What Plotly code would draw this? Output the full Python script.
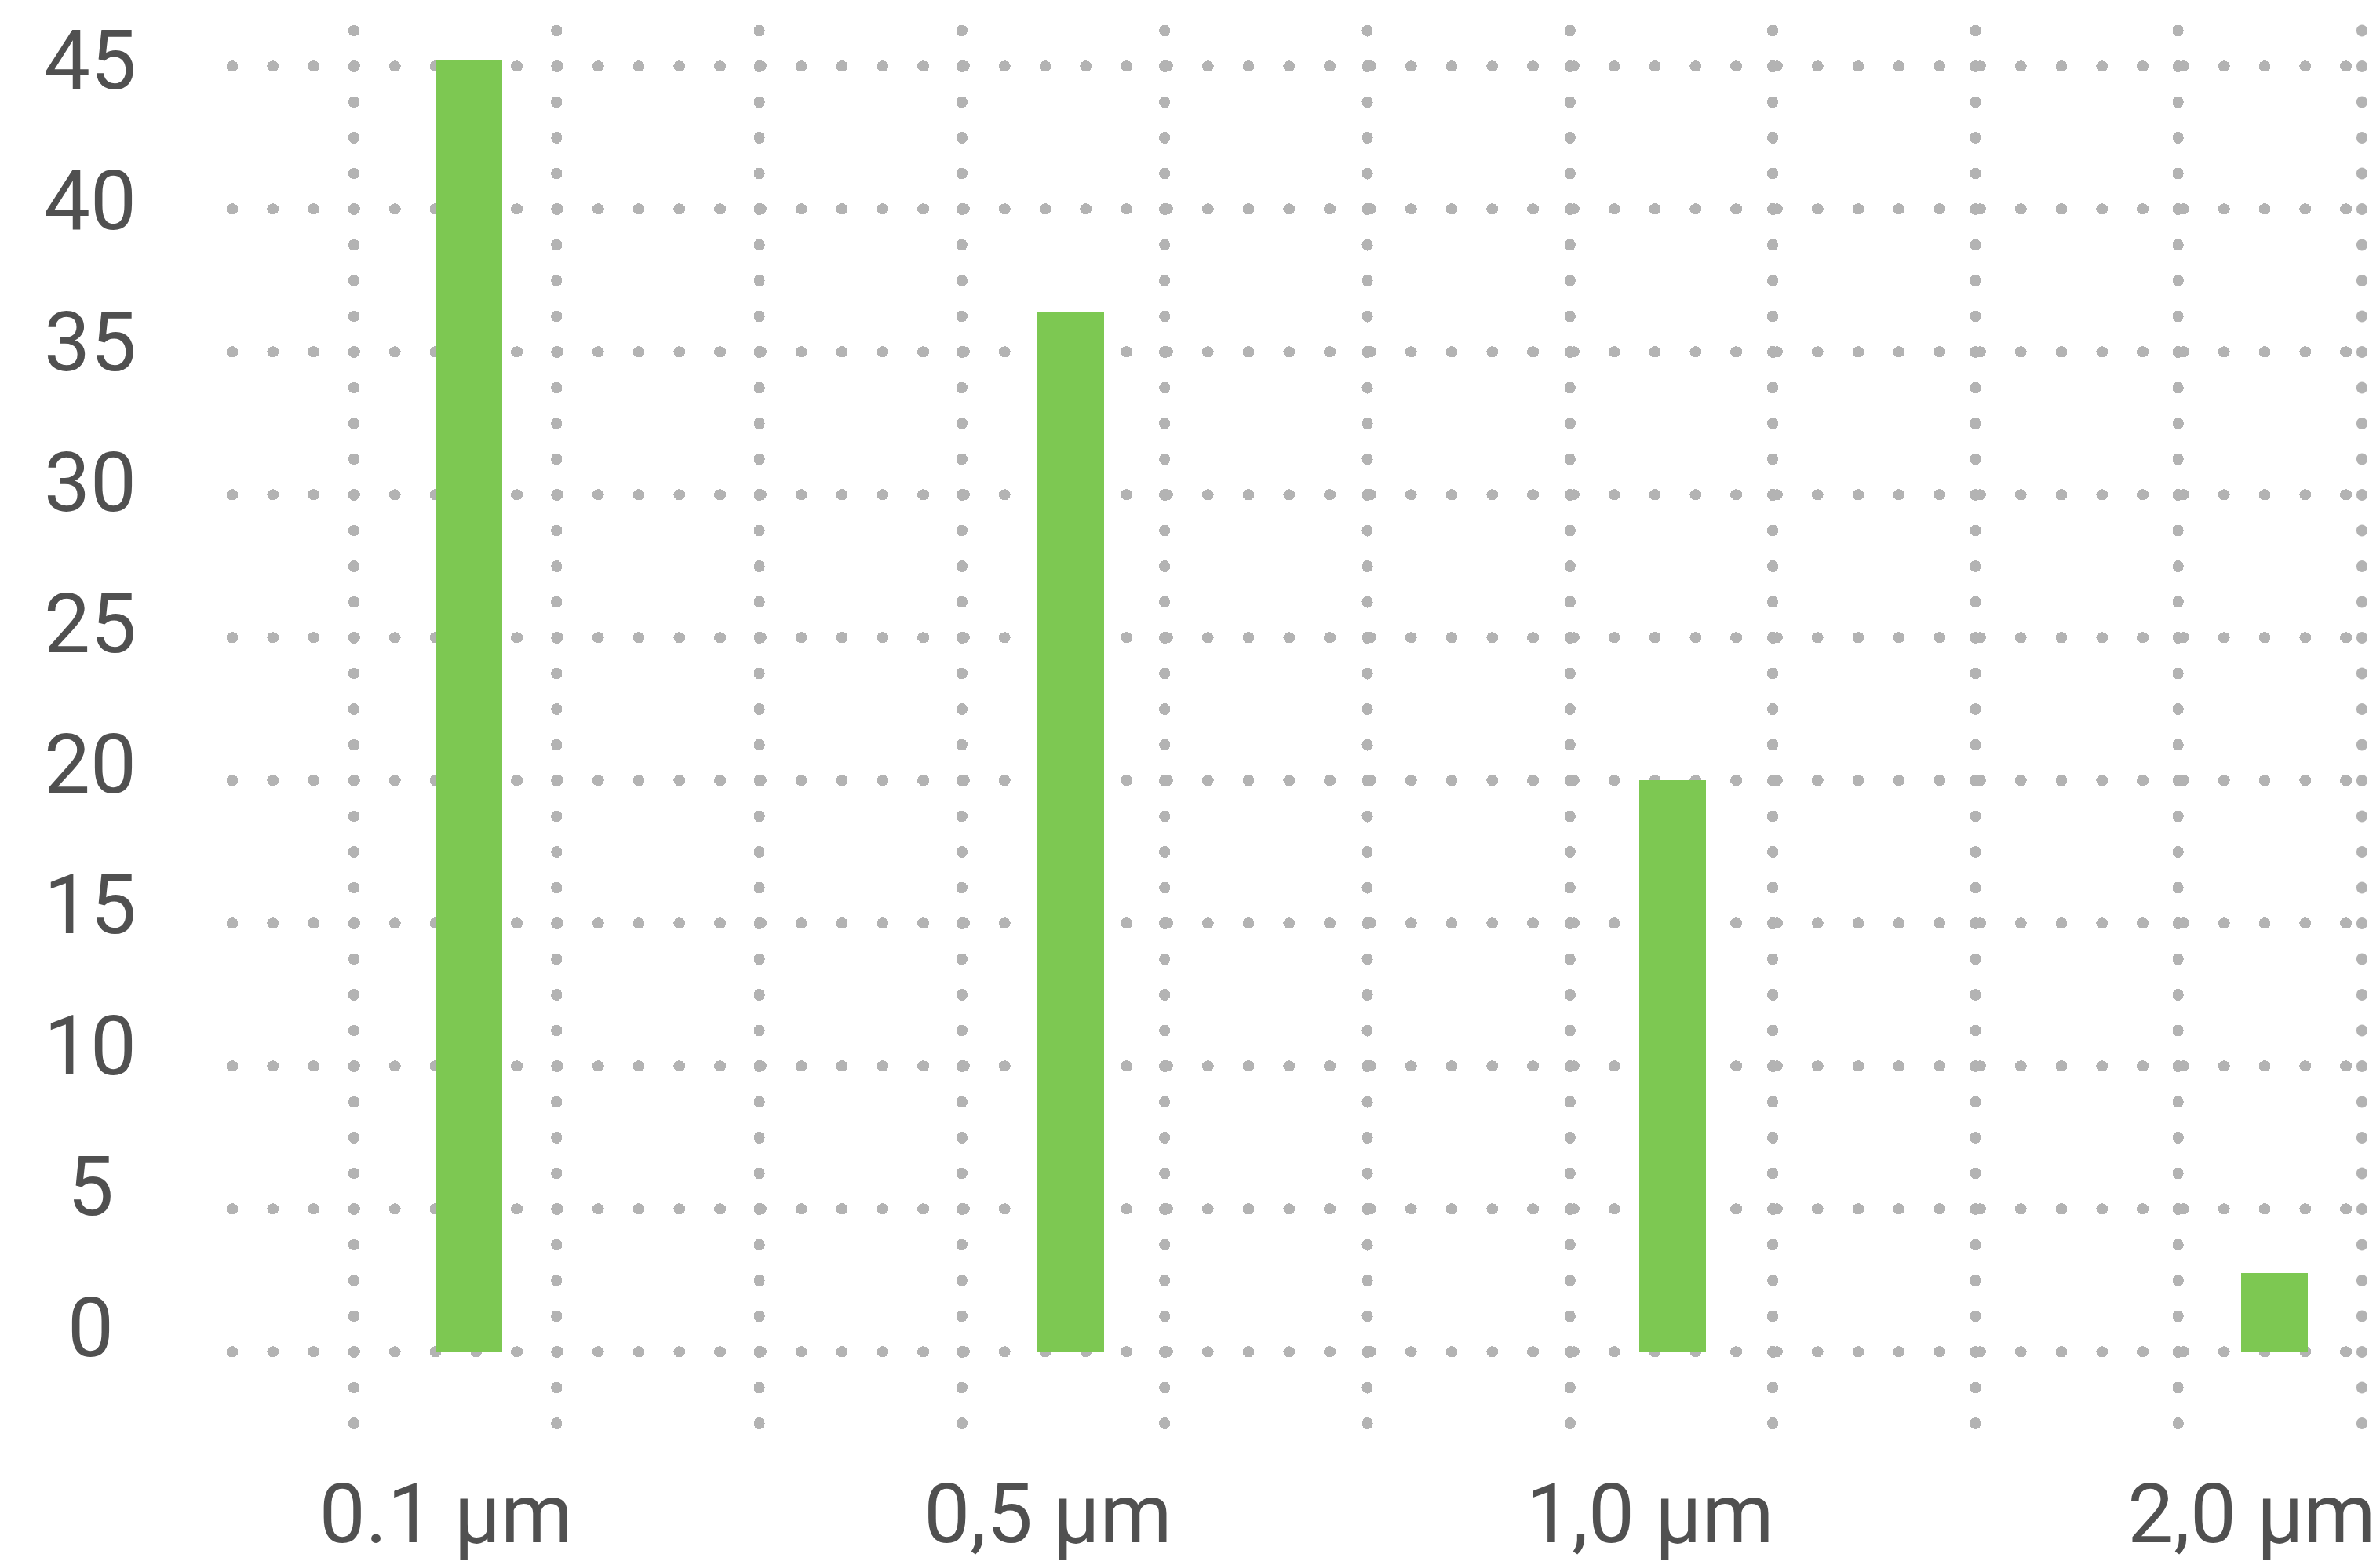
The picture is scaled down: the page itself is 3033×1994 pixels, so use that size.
import plotly.graph_objects as go

# ---- data ----
categories = ["0.1 µm", "0,5 µm", "1,0 µm", "2,0 µm"]
values = [45.2, 36.4, 20.0, 2.75]
y_ticks = [0, 5, 10, 15, 20, 25, 30, 35, 40, 45]
y_tick_labels = ["0", "5", "10", "15", "20", "25", "30", "35", "40", "45"]

# ---- style ----
W, H = 3033, 1994
BAR = "#7DC852"
GRID = "#B3B3B3"
TXT = "#505050"
FONT = "Roboto"
FS = 105

fig = go.Figure()

fig.add_trace(go.Bar(
    x=categories, y=values, marker_color=BAR, marker_line_width=0,
    width=0.111, xaxis="x", yaxis="y", hoverinfo="skip",
))
# empty helper traces so the auxiliary axes are created
fig.add_trace(go.Scatter(x=[], y=[], xaxis="x2", yaxis="y", showlegend=False))
fig.add_trace(go.Scatter(x=[], y=[], xaxis="x", yaxis="y3", showlegend=False))

annotations = [
    dict(text=lab, x=-0.0643, xref="paper", xanchor="center",
         y=v, yref="y3", yanchor="middle", showarrow=False,
         font=dict(family=FONT, size=FS, color=TXT))
    for v, lab in zip(y_ticks, y_tick_labels)
]

fig.update_layout(
    width=W, height=H,
    margin=dict(l=290, r=23, t=33, b=172, autoexpand=False),
    paper_bgcolor="white", plot_bgcolor="white",
    showlegend=False,
    bargap=0,
    font=dict(family=FONT, size=FS, color=TXT),
    xaxis=dict(
        type="category", range=[-0.4009, 3.1454], automargin=False,
        showgrid=False, zeroline=False, showline=False, ticks="",
        tickfont=dict(family=FONT, size=FS, color=TXT),
        ticklabelshift=-29, ticklabelstandoff=37,
    ),
    xaxis2=dict(
        overlaying="x", range=[-0.6233, 9.9071], tick0=0, dtick=1,
        showticklabels=False, ticks="", zeroline=False, showline=False,
        showgrid=True, gridcolor=GRID, gridwidth=14, griddash="1px,44.5px",
        anchor="y", automargin=False,
    ),
    yaxis=dict(
        range=[-2.739, 46.409], tickmode="array", tickvals=y_ticks,
        showticklabels=False, ticks="", zeroline=False, showline=False,
        showgrid=True, gridcolor=GRID, gridwidth=14, griddash="1px,50.8px",
        automargin=False,
    ),
    yaxis3=dict(
        overlaying="y", range=[-3.621, 46.240], visible=False, automargin=False,
    ),
    annotations=annotations,
    shapes=[dict(
        type="line", xref="paper", yref="paper", x0=1, x1=1, y0=1, y1=0,
        line=dict(color=GRID, width=14, dash="1px,44.5px"), layer="below",
    )],
)

# remove the default page margin and round the dotted grid into dots
post = """
document.body.style.margin = '0';
document.body.style.overflow = 'hidden';
var gd = document.getElementById('{plot_id}');
gd.querySelectorAll('.gridlayer path, .shapelayer path').forEach(function(p){
    p.style.strokeLinecap = 'round';
    p.style.strokeDashoffset = '-5.5px';
});
"""

fig.write_html("out.html", post_script=post,
               config={"displayModeBar": False, "staticPlot": True})
